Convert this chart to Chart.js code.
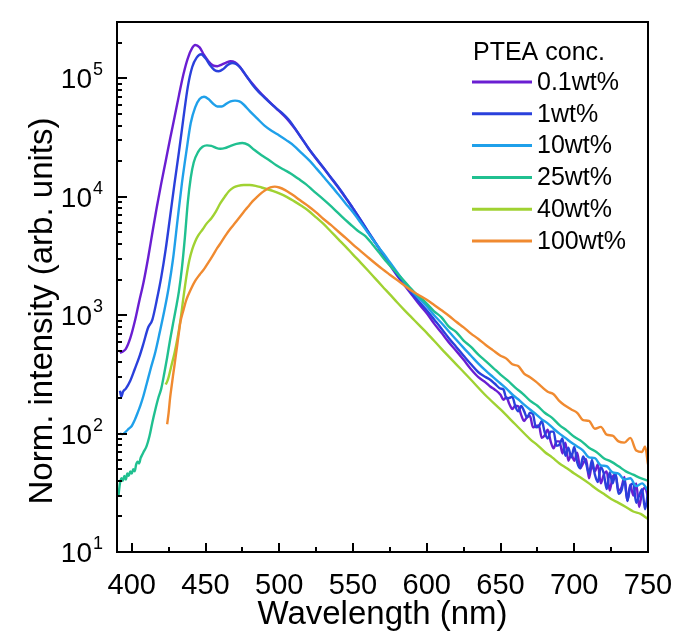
<!DOCTYPE html>
<html><head><meta charset="utf-8">
<script src="https://cdn.jsdelivr.net/npm/chart.js@4.4.0/dist/chart.umd.min.js"></script>
<style>html,body{margin:0;padding:0;background:#fff;}canvas{display:block}</style>
</head><body>
<canvas id="c" width="675" height="632"></canvas>
<script>
// ---------- data (wavelength in nm, normalized intensity) ----------
const WL_01 = [392,394,396,399,402,405,408,411,414,417,420,423,426,429,432,435,438,441,443,446,449,452,455,458,461,464,467,470,473,476,480,484,488,492,496,500,505,510,515,520,525,530,535,540,545,550,555,560,565,570,575,580,585,590,595,600,605,610,615,620,625,630,635,640,643,646,650,652,654,656,658,660,662,664,666,668,670,672,674,676,678,680,682,684,686,688,690,692,694,696,698,700,702,704,706,708,710,712,714,716,718,720,722,724,726,728,730,732,734,736,738,740,742,744,746,748,750];
const I_01 = [480,495,520,640,880,1300,1900,3000,5000,8200,13000,20000,31000,47000,72000,108000,148000,181000,192000,183000,158000,140000,129000,127000,131000,136000,140000,137000,127000,112000,96000,84000,74000,66000,59000,53000,46000,38500,31500,25500,21000,17500,14500,12000,9800,8000,6400,5100,4100,3300,2650,2150,1780,1480,1230,1040,850,710,590,500,420,350,300,270,250,236,213,193,203,178,161,172,170,144,128,138,141,113,116,117,92,97,108,86,75,86,86,68,84,59,67,59,69,51,56,61,42,54,48,55,38,45,48,33,43,45,33,35,43,27,37,30,38,24,32,35,29];

const WL_1 = [392,393,394,396,399,402,405,408,411,414,417,420,423,426,429,432,435,438,441,444,447,450,453,456,459,462,465,468,471,474,478,482,486,490,494,498,502,506,510,515,520,525,530,535,540,545,550,555,560,565,570,575,580,585,590,595,600,605,610,615,620,625,630,635,640,643,646,650,652,654,656,658,660,662,664,666,668,670,672,674,676,678,680,682,684,686,688,690,692,694,696,698,700,702,704,706,708,710,712,714,716,718,720,722,724,726,728,730,732,734,736,738,740,742,744,746,748,750];
const I_1 = [230,205,225,240,280,350,440,580,780,920,1350,2100,3600,6800,13000,24000,46000,85000,125000,150000,160000,148000,130000,118000,115000,120000,130000,135000,132000,122000,104000,88000,77000,69000,62000,56000,51000,45500,39000,31500,25500,21200,17600,14600,12100,9900,8000,6450,5150,4150,3350,2700,2200,1830,1530,1290,1100,920,770,640,540,455,385,330,300,285,265,240,236,199,200,205,171,154,171,155,137,150,146,113,115,128,102,91,104,104,79,81,91,65,76,63,77,57,51,64,56,46,60,45,39,52,46,34,47,38,46,31,33,41,27,36,38,26,30,34,23,32];

const WL_10 = [392,394,396,398,400,402,404,406,408,410,413,416,419,422,425,428,431,434,437,440,443,446,449,452,455,458,461,464,467,470,473,476,480,485,490,495,500,505,510,515,520,525,530,535,540,545,550,555,560,565,570,575,580,585,590,595,600,605,610,615,620,625,630,635,640,645,650,654,658,662,666,670,674,678,682,686,690,694,698,702,706,710,714,718,722,726,730,734,738,742,746,750];
const I_10 = [100,99,104,110,116,130,150,175,210,260,360,490,720,1080,1700,3000,6300,13000,24000,42000,57000,67000,70000,67000,61500,58000,58000,61000,64000,65000,64000,60000,53000,46000,40000,36000,33000,30000,27000,23500,20500,17500,14800,12500,10500,8800,7400,6100,5000,4100,3400,2800,2300,1900,1600,1380,1190,1000,860,730,620,530,455,390,340,300,265,240,214,195,176,160,146,132,122,110,100,92,84,78,72,63,62,54,53,47,46,41,42,36,38,33];

const WL_25 = [391,392,393,394,395,396,397,398,399,400,401,402,403,404,405,406,407,408,410,412,414,416,418,420,422,424,426,428,430,432,434,436,438,440,442,445,448,451,454,457,460,463,467,471,475,479,483,488,493,498,503,508,513,518,523,528,533,538,543,548,553,558,563,568,573,578,583,588,593,598,605,610,615,620,625,630,635,640,645,650,655,660,665,670,675,680,685,690,695,700,705,710,715,720,725,730,735,740,745,750];
const I_25 = [30,38,42,40,44,41,46,44,48,46,50,48,55,58,56,62,66,70,78,95,125,160,200,240,320,440,620,850,1150,1600,2500,4500,9000,14500,19500,24000,26500,27200,27000,26000,25500,25800,27000,28000,28500,27500,25000,22500,20500,18500,17000,15700,14200,12800,11300,10000,8800,7700,6700,5900,5200,4700,4000,3350,2800,2400,2050,1750,1500,1330,1080,960,800,720,610,540,465,410,360,315,280,245,218,190,172,150,136,118,106,94,86,76,70,62,58,53,48,45,42,40];

const WL_40 = [423,424,425,427,429,431,433,435,437,439,441,443,445,448,451,454,457,460,463,466,469,472,476,480,484,488,492,496,500,505,510,515,520,525,530,535,540,545,550,555,560,565,570,575,580,585,590,595,600,610,620,630,640,650,660,670,675,680,685,690,695,700,705,710,715,720,725,730,735,740,745,750];
const I_40 = [260,275,300,380,480,640,900,1400,2100,2900,3600,4200,4700,5300,6000,6600,7500,8800,10000,11200,12000,12400,12600,12600,12400,12000,11600,11200,10700,10000,9200,8400,7600,6700,5900,5100,4400,3800,3250,2800,2400,2050,1750,1500,1280,1100,950,820,710,520,385,285,210,160,120,90,80,70,63,56,51,46,42,38,34,31,28,26,24,22,21,19];

const WL_100 = [424,425,426,427,428,429,430,431,432,433,435,437,440,443,446,449,452,455,458,461,464,467,470,473,476,479,482,485,488,491,494,497,500,504,508,512,516,520,525,530,535,540,545,550,555,560,565,570,575,580,585,590,595,600,605,610,615,620,625,630,635,640,645,650,654,658,662,666,670,674,678,682,686,690,694,698,702,706,710,714,718,722,726,730,734,738,742,746,748,750];
const I_100 = [120,150,200,250,310,380,470,580,720,880,1100,1350,1650,1950,2200,2450,2800,3200,3700,4200,4800,5400,6000,6700,7500,8300,9200,10000,10800,11500,12000,12200,12000,11400,10600,9800,9000,8300,7400,6500,5800,5100,4500,3950,3500,3100,2750,2450,2200,1980,1780,1600,1470,1350,1220,1100,990,880,790,700,630,560,505,455,430,385,372,322,300,275,248,226,215,188,172,160,150,130,128,110,114,98,96,86,84,92,72,70,78,55];

const SERIES_LABELS = ['0.1wt%','1wt%','10wt%','25wt%','40wt%','100wt%'];
const SERIES_WL = [WL_01, WL_1, WL_10, WL_25, WL_40, WL_100];
const SERIES_I = [I_01, I_1, I_10, I_25, I_40, I_100];
const SERIES_COLORS = ['#6a1ed2','#2a40dc','#1fa0ea','#20c090','#a0d232','#f08a30'];
const LEGEND_TITLE = 'PTEA conc.';
const X_TICKS = [400,450,500,550,600,650,700,750];
const X_MINOR = [425,475,525,575,625,675,725];
const Y_EXPONENTS = [1,2,3,4,5];
const X_TITLE = 'Wavelength (nm)';
const Y_TITLE = 'Norm. intensity (arb. units)';
const FONT = "'Liberation Sans', Arial, sans-serif";

const framePlugin = {
  id: 'frame',
  afterDraw(chart) {
    const ctx = chart.ctx, a = chart.chartArea, xs = chart.scales.x, ys = chart.scales.y;
    ctx.save();
    ctx.strokeStyle = '#000';
    ctx.lineWidth = 2;
    ctx.lineCap = 'butt';
    X_TICKS.forEach(v => { const p = Math.round(xs.getPixelForValue(v)); ctx.beginPath(); ctx.moveTo(p, a.bottom); ctx.lineTo(p, a.bottom - 9); ctx.stroke(); });
    X_MINOR.forEach(v => { const p = Math.round(xs.getPixelForValue(v)); ctx.beginPath(); ctx.moveTo(p, a.bottom); ctx.lineTo(p, a.bottom - 5); ctx.stroke(); });
    Y_EXPONENTS.forEach(e => {
      const p = Math.round(ys.getPixelForValue(Math.pow(10, e)));
      ctx.beginPath(); ctx.moveTo(a.left, p); ctx.lineTo(a.left + 10, p); ctx.stroke();
      for (let m = 2; m <= 9; m++) {
        const v = m * Math.pow(10, e);
        if (v > ys.max) break;
        const q = Math.round(ys.getPixelForValue(v));
        ctx.beginPath(); ctx.moveTo(a.left, q); ctx.lineTo(a.left + 5, q); ctx.stroke();
      }
    });
    ctx.strokeRect(a.left, a.top, a.right - a.left, a.bottom - a.top);
    ctx.fillStyle = '#000';
    Y_EXPONENTS.forEach(e => {
      const p = ys.getPixelForValue(Math.pow(10, e));
      ctx.font = '28px ' + FONT;
      ctx.textAlign = 'right'; ctx.textBaseline = 'alphabetic';
      ctx.fillText('10', 92, p + 10);
      ctx.font = '18px ' + FONT;
      ctx.textAlign = 'left';
      ctx.fillText(String(e), 93, p - 3);
    });
    ctx.save();
    ctx.translate(43, 311);
    ctx.rotate(-Math.PI / 2);
    ctx.font = '33px ' + FONT;
    ctx.textAlign = 'center'; ctx.textBaseline = 'middle';
    ctx.fillText(Y_TITLE, 0, 0);
    ctx.restore();
    ctx.font = '25px ' + FONT;
    ctx.textAlign = 'left'; ctx.textBaseline = 'middle';
    ctx.fillText(LEGEND_TITLE, 473, 53);
    chart.data.datasets.forEach((ds, i) => {
      const y = 82 + i * 31.8;
      ctx.strokeStyle = ds.borderColor; ctx.lineWidth = 3;
      ctx.beginPath(); ctx.moveTo(472, y); ctx.lineTo(532, y); ctx.stroke();
      ctx.fillStyle = '#000';
      ctx.fillText(ds.label, 537, y + 1);
    });
    ctx.restore();
  }
};

new Chart(document.getElementById('c'), {
  type: 'line',
  data: {
    datasets: SERIES_LABELS.map((lab, i) => ({
      label: lab,
      data: SERIES_WL[i].map((x, j) => ({ x: x, y: SERIES_I[i][j] })),
      borderColor: SERIES_COLORS[i],
      backgroundColor: SERIES_COLORS[i],
      borderWidth: 2.4,
      pointRadius: 0,
      cubicInterpolationMode: 'monotone',
      fill: false,
      order: 6 - i
    }))
  },
  options: {
    responsive: false,
    animation: false,
    devicePixelRatio: 1,
    layout: { padding: { left: 0, top: 22, right: 27, bottom: 0 } },
    plugins: { legend: { display: false }, tooltip: { enabled: false } },
    scales: {
      x: {
        type: 'linear', min: 390, max: 750,
        afterBuildTicks: s => { s.ticks = X_TICKS.map(v => ({ value: v })); },
        ticks: { font: { family: FONT, size: 29 }, color: '#000', padding: 9, maxRotation: 0, autoSkip: false },
        grid: { display: false }, border: { display: false },
        title: { display: true, text: X_TITLE, font: { family: FONT, size: 33 }, color: '#000', padding: { top: 0, bottom: -3 } },
        afterFit: s => { s.height = 80; s.paddingLeft = 0; s.paddingRight = 0; }
      },
      y: {
        type: 'logarithmic', min: 10, max: 300000,
        ticks: { display: false },
        grid: { display: false }, border: { display: false },
        afterFit: s => { s.width = 117; s.paddingTop = 0; s.paddingBottom = 0; }
      }
    }
  },
  plugins: [framePlugin]
});
</script>
</body></html>
